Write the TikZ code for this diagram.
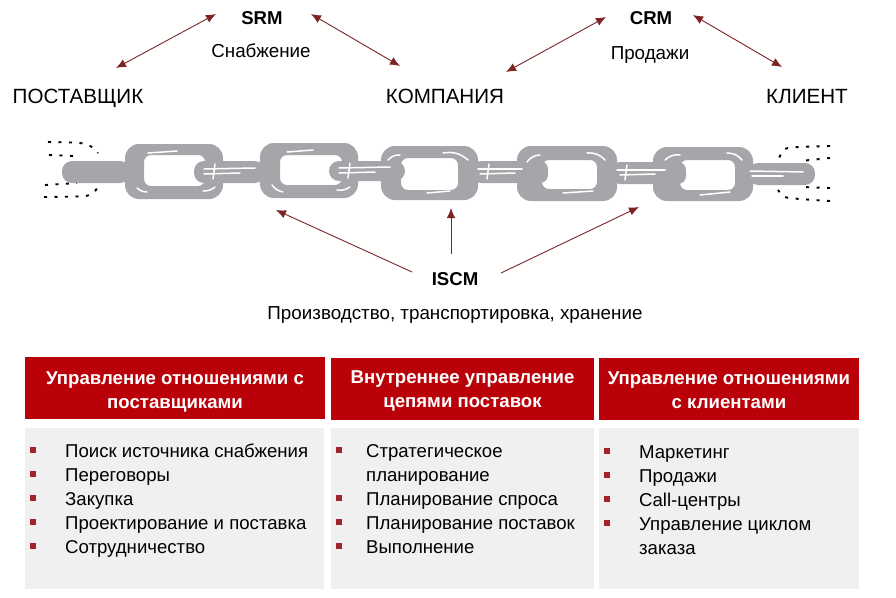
\documentclass[tikz,border=0pt]{standalone}
\usepackage{fontspec}
\setmainfont{Liberation Sans}
\usetikzlibrary{arrows.meta}
\definecolor{headred}{HTML}{BA0008}
\definecolor{arrowred}{HTML}{7E2323}
\definecolor{bodygray}{HTML}{F0F0F0}
\definecolor{chaingray}{HTML}{A5A6A9}
\definecolor{bulletred}{HTML}{A3222C}
\newcommand{\headstrut}{\rule{0pt}{20pt}}
\newcommand{\lowstrut}{\rule{0pt}{16pt}}
\tikzset{
	big/.style={font=\fontsize{20.6}{24}\selectfont, inner sep=0pt, anchor=base},
	abbr/.style={font=\fontsize{18.6}{22}\selectfont\bfseries, inner sep=0pt, anchor=base},
	plain/.style={font=\fontsize{18.8}{22}\selectfont, inner sep=0pt, anchor=base},
	head/.style={fill=headred, text=white, font=\fontsize{18.6}{24}\selectfont\bfseries, align=center, minimum height=62pt, inner sep=0pt},
	body/.style={fill=bodygray, inner sep=0pt},
	itemtext/.style={font=\fontsize{18.6}{24}\selectfont, anchor=base west, inner sep=0pt},
	bullet/.style={fill=bulletred, minimum size=5.5pt, inner sep=0pt},
	link/.style={draw=arrowred, line width=.9pt, {Latex[length=10pt,width=8.5pt]}-{Latex[length=10pt,width=8.5pt]}},
	uplink/.style={draw=arrowred, line width=.9pt, -{Latex[length=10pt,width=8.5pt]}},
	shine/.style={draw=white, line width=1.5pt, line cap=round},
	crumbs/.style={draw=black, line width=1.9pt, dash pattern=on 3pt off 7.5pt}
}
\begin{document}
\begin{tikzpicture}[x=1pt, y=-1pt]
	\useasboundingbox (0,0) rectangle (896,597);
	% top labels
	\node[big] (supplier) at (78,103) {ПОСТАВЩИК};
	\node[big] (company) at (445,103) {КОМПАНИЯ};
	\node[big] (customer) at (807,103) {КЛИЕНТ};
	\node[abbr] (srm) at (262,24) {SRM};
	\node[plain] (supply) at (261,57) {Снабжение};
	\node[abbr] (crm) at (651,24) {CRM};
	\node[plain] (sales) at (650,59) {Продажи};
	\node[abbr] (iscm) at (455,285) {ISCM};
	\node[plain] (process) at (455,319) {Производство, транспортировка, хранение};
	% arrow ends
	\coordinate (s1) at (116,68);
	\coordinate (s2) at (216,14);
	\coordinate (s3) at (311,14);
	\coordinate (s4) at (400,66);
	\coordinate (c1) at (506,72);
	\coordinate (c2) at (606,17);
	\coordinate (c3) at (693,15);
	\coordinate (c4) at (782,67);
	\coordinate (i1) at (412,272);
	\coordinate (i2) at (276,210);
	\coordinate (i3) at (451,254);
	\coordinate (i4) at (451,208);
	\coordinate (i5) at (501,273);
	\coordinate (i6) at (639,207);
	\draw[link] (s1) -- (s2);
	\draw[link] (s3) -- (s4);
	\draw[link] (c1) -- (c2);
	\draw[link] (c3) -- (c4);
	\draw[uplink] (i1) -- (i2);
	\draw[uplink] (i3) -- (i4);
	\draw[uplink] (i5) -- (i6);
	% broken ends of the chain
	\draw[crumbs] plot[smooth, tension=.5] coordinates {(48,142) (80,143) (92,147) (98,153)};
	\draw[crumbs] (49,155) -- (74,156);
	\draw[crumbs] plot[smooth, tension=.5] coordinates {(44,197) (85,196) (95,191) (99,184)};
	\draw[crumbs] (45,185) -- (77,183);
	\draw[crumbs] plot[smooth, tension=.5] coordinates {(830,146) (800,147) (785,149) (778,160)};
	\draw[crumbs] (830,158) -- (800,161);
	\draw[crumbs] plot[smooth, tension=.5] coordinates {(830,201) (800,199) (785,197) (778,190)};
	\draw[crumbs] (830,188) -- (802,187);
	% chain
	\foreach \xa/\ya/\xb/\yb/\xc/\yc/\xd/\yd in {
		125/144/223/199/144/155/205/186,
		260/143/358/198/280/155/342/185,
		381/146/478/200/401/158/458/190,
		517/146/617/201/542/160/597/189,
		653/147/753/201/680/160/735/190}
		\fill[chaingray, even odd rule, rounded corners=14pt] (\xa,\ya) rectangle (\xb,\yb)
			[rounded corners=7pt] (\xc,\yc) rectangle (\xd,\yd);
	\fill[chaingray, rounded corners=10pt] (62,161) rectangle (130,183);
	\fill[chaingray, rounded corners=10pt] (194,161) rectangle (265,183);
	\fill[chaingray, rounded corners=10pt] (329,161) rectangle (405,181);
	\fill[chaingray, rounded corners=8pt] (473,161) rectangle (548,183);
	\fill[chaingray, rounded corners=8pt] (612,162) rectangle (686,184);
	\fill[chaingray, rounded corners=10pt] (748,163) rectangle (815,185);
	% highlights on the bars
	\draw[shine] (204,169) -- (255,168);
	\draw[shine] (204,174) -- (240,173);
	\draw[shine] (215,164) -- (213,179);
	\draw[shine] (339,168) -- (390,167);
	\draw[shine] (339,173) -- (375,172);
	\draw[shine] (350,163) -- (348,178);
	\draw[shine] (478,169) -- (522,169);
	\draw[shine] (480,174) -- (515,173);
	\draw[shine] (489,164) -- (487,179);
	\draw[shine] (617,170) -- (665,170);
	\draw[shine] (620,175) -- (655,174);
	\draw[shine] (627,165) -- (625,180);
	\draw[shine] (750,171) -- (803,172);
	\draw[shine] (752,176) -- (783,176);
	% highlights on the links
	\draw[shine] (148,153) -- (177,151);
	\draw[shine] (137,188) to[bend right=20] (147,192);
	\draw[shine] (203,191) to[bend right=20] (215,187);
	\draw[shine] (287,152) -- (313,150);
	\draw[shine] (272,185) to[bend right=20] (283,192);
	\draw[shine] (337,190) to[bend right=20] (350,187);
	\draw[shine] (388,160) to[bend left=25] (400,155);
	\draw[shine] (443,153) to[bend left=25] (468,160);
	\draw[shine] (427,193) -- (450,191);
	\draw[shine] (527,162) to[bend left=25] (540,155);
	\draw[shine] (587,153) to[bend left=25] (605,160);
	\draw[shine] (563,193) -- (593,191);
	\draw[shine] (665,160) to[bend left=25] (680,155);
	\draw[shine] (727,153) to[bend left=25] (742,160);
	\draw[shine] (700,195) -- (730,192);
	% table
	\node[head, minimum width=300pt] (head1) at (175,388) {\headstrut Управление отношениями с\\поставщиками};
	\node[head, minimum width=263pt] (head2) at (462.5,389) {\lowstrut Внутреннее управление\\цепями поставок};
	\node[head, minimum width=260pt] (head3) at (729,389) {\lowstrut Управление отношениями\\с клиентами};
	\node[body, minimum width=299pt, minimum height=161pt] (body1) at (174.5,508.5) {};
	\node[body, minimum width=263pt, minimum height=161pt] (body2) at (462.5,508.5) {};
	\node[body, minimum width=260pt, minimum height=161pt] (body3) at (729,508.5) {};
	% first column
	\foreach \i/\y/\b/\t in {1/457/450/Поиск источника снабжения, 2/481/474/Переговоры, 3/505/498/Закупка, 4/529/522/Проектирование и поставка, 5/553/546/Сотрудничество}{
		\node[bullet] (ba\i) at (33,\b) {};
		\node[itemtext] (ta\i) at (65,\y) {\t};
	}
	% second column
	\foreach \i/\y/\b/\t in {1/457/450/Стратегическое, 2/505/498/Планирование спроса, 3/529/522/Планирование поставок, 4/553/546/Выполнение}{
		\node[bullet] (bb\i) at (339,\b) {};
		\node[itemtext] (tb\i) at (366,\y) {\t};
	}
	\node[itemtext] (tb5) at (366,481) {планирование};
	% third column
	\foreach \i/\y/\b/\t in {1/458/451/Маркетинг, 2/482/475/Продажи, 3/506/499/Call-центры, 4/530/523/Управление циклом}{
		\node[bullet] (bc\i) at (607,\b) {};
		\node[itemtext] (tc\i) at (639,\y) {\t};
	}
	\node[itemtext] (tc5) at (639,554) {заказа};
\end{tikzpicture}
\end{document}
